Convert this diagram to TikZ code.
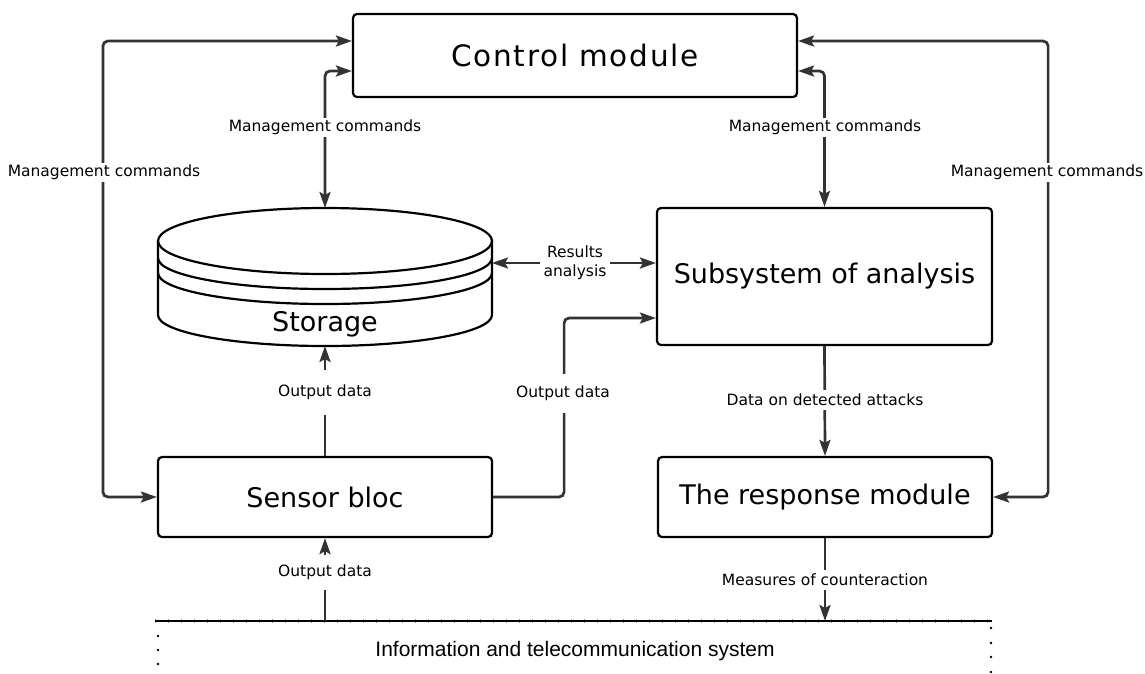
\documentclass[tikz,border=0pt]{standalone}
\usepackage{fontspec}
\setmainfont{DejaVu Sans}
\newfontfamily\arialf{Liberation Sans}
\newfontfamily\ctrlfont[LetterSpace=6]{DejaVu Sans}
\usetikzlibrary{arrows.meta,calc}
\begin{document}
\begin{tikzpicture}[x=1pt,y=-1pt,
  >={Stealth[length=16pt,width=11pt,inset=3pt]},
  box/.style={draw=black,line width=2.2pt,rounded corners=4pt,fill=white,
    font=\fontsize{27}{32}\selectfont,inner sep=0pt},
  cyl/.style={draw=black,line width=2.2pt},
  conn/.style={draw=black!80,line width=2.7pt,rounded corners=5pt},
  lbl/.style={fill=white,font=\fontsize{15.5}{19}\selectfont,inner xsep=1pt,inner ysep=2pt,align=center},
  dotmark/.style={fill=black,draw=none},
]
\useasboundingbox (0,0) rectangle (1145,673);

% nodes
\node[box,minimum width=444pt,minimum height=83pt,font=\ctrlfont\fontsize{29.5}{34}\selectfont] (ctrl) at (575,55.5) {Control module};
\node[box,minimum width=335pt,minimum height=137pt] (sub) at (824.5,276.5) {Subsystem of analysis};
\node[box,minimum width=334pt,minimum height=80pt] (sensor) at (325,497) {Sensor bloc};
\node[box,minimum width=334pt,minimum height=80pt] (resp) at (825,497) {The response module};

% storage cylinder
\fill[white] (158,241) -- (158,315) arc[start angle=180,end angle=360,x radius=167pt,y radius=31pt] -- (492,241) -- cycle;
\draw[cyl] (158,241) -- (158,315) arc[start angle=180,end angle=360,x radius=167pt,y radius=31pt] -- (492,241);
\draw[cyl] (325,241) ellipse[x radius=167pt,y radius=33pt];
\draw[cyl] (158,258) arc[start angle=180,end angle=360,x radius=167pt,y radius=31pt];
\draw[cyl] (158,273) arc[start angle=180,end angle=360,x radius=167pt,y radius=31pt];
\node[font=\fontsize{27}{32}\selectfont] (stor) at (325,324) {Storage};
\coordinate (stortop) at (325,208);
\coordinate (storbot) at (325,346);
\coordinate (storright) at (492,263);

% system line
\coordinate (sysL) at (155,621);
\coordinate (sysR) at (992,621);
\coordinate (sysA) at (325,621);
\coordinate (sysB) at (825,621);
\draw[black!40,line width=4.5pt,dash pattern=on 0.7pt off 12.3pt] (sysL) -- (sysR);
\draw[black,line width=2.8pt] (sysL) -- (sysR);
\node[font=\arialf\fontsize{21}{25}\selectfont] (sys) at (575,651) {Information and telecommunication system};
\foreach \yy in {636,650,664} \fill[dotmark] (158,\yy) circle[radius=1.3pt];
\foreach \yy in {628,643,657,672} \fill[dotmark] (991,\yy) circle[radius=1.3pt];

% connectors
\draw[conn,<->] ([yshift=14.5pt]ctrl.west) -- ++(-249,0) |- (sensor.west);
\node[lbl] (l1) at (104,172) {Management commands};

\draw[conn,<->] ([yshift=-15.5pt]ctrl.west) -| (stortop);
\node[lbl] (l2) at (325,127) {Management commands};

\draw[conn,<->] ([yshift=14.5pt]ctrl.east) -- ++(250,0) |- (resp.east);
\node[lbl] (l3) at (1047,172) {Management commands};

\draw[conn,<->] ([yshift=-15.5pt]ctrl.east) -| (sub.north);
\node[lbl] (l4) at (825,127) {Management commands};

\draw[conn,<->] (storright) -- (sub.west |- storright);
\node[lbl,inner xsep=4pt,inner ysep=0pt] (l5) at (575,263) {Results\\analysis};

\draw[conn,->] (sensor.north) -- (storbot);
\node[lbl,inner ysep=15pt] (l6) at (325,392) {Output data};

\draw[conn,->] (sensor.east) -- ++(71,0) |- ([yshift=-41.5pt]sub.west);
\node[lbl,inner ysep=12pt] (l7) at (563,393) {Output data};

\draw[conn,->] (sub.south) -- (resp.north);
\node[lbl,inner ysep=4pt] (l8) at (825,400) {Data on detected attacks};

\draw[conn,->] (resp.south) -- (sysB);
\node[lbl,inner ysep=4pt] (l9) at (825,580) {Measures of counteraction};

\draw[conn,->] (sysA) -- (sensor.south);
\node[lbl,inner ysep=10pt] (l10) at (325,572) {Output data};
\end{tikzpicture}
\end{document}
